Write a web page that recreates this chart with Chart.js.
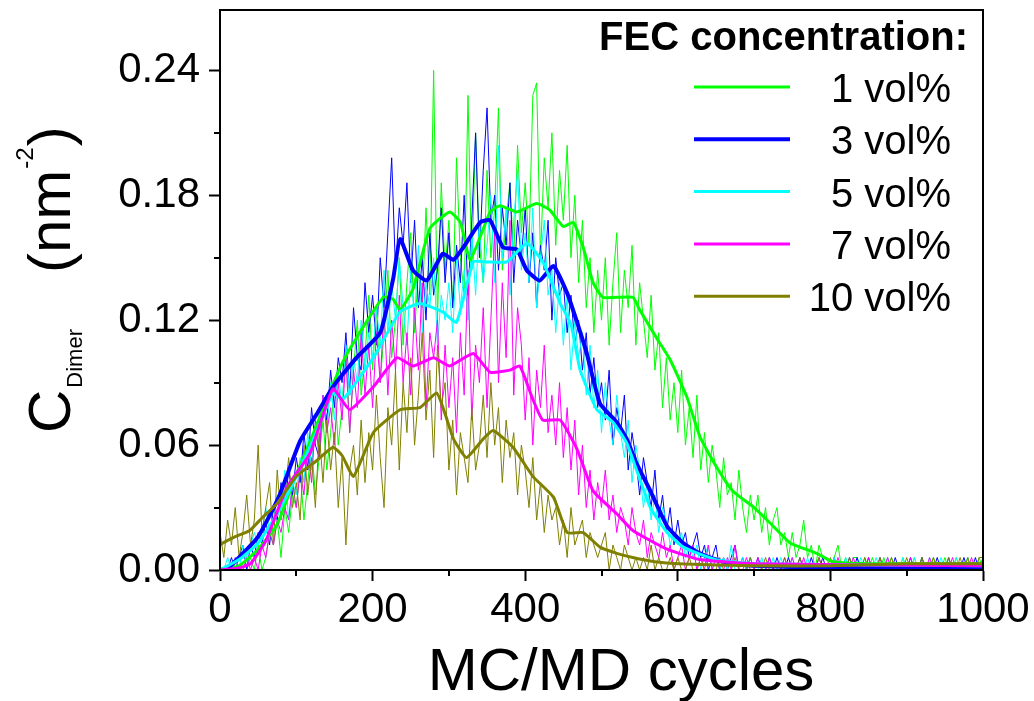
<!DOCTYPE html>
<html>
<head>
<meta charset="utf-8">
<script src="https://cdn.jsdelivr.net/npm/chart.js@4.4.1/dist/chart.umd.min.js"></script>
<style>
  body { margin: 0; background: #fff; }
  #wrap { width: 1034px; height: 701px; }
</style>
</head>
<body>
<div id="wrap"><canvas id="dimerChart" width="1034" height="701"></canvas></div>
<script>
// sampled every 5 MC/MD cycles
const cycles = Array.from({ length: 201 }, (_, i) => i * 5);

const labels = ['1 vol%', '3 vol%', '5 vol%', '7 vol%', '10 vol%'];
const colors = ['#00ff00', '#0000ff', '#00ffff', '#ff00ff', '#808000'];

// unlabelled minor ticks
const xMinorTicks = [100, 300, 500, 700, 900];
const yMinorTicks = [0.03, 0.09, 0.15, 0.21];

// raw C_Dimer values (nm^-2)
const raw1 = [
  0,0,0,0,0,0,0,0,0.006,0,
  0.012,0,0.006,0.018,0.012,0.024,0.006,0.030,0.018,0.036,
  0.030,0.048,0.024,0.042,0.060,0.036,0.054,0.072,0.048,0.066,
  0.090,0.060,0.078,0.108,0.066,0.096,0.120,0.084,0.102,0.132,
  0.096,0.126,0.090,0.114,0.144,0.102,0.120,0.150,0.108,0.138,
  0.162,0.114,0.144,0.126,0.174,0.132,0.240,0.120,0.186,0.144,
  0.168,0.126,0.198,0.150,0.132,0.228,0.144,0.210,0.156,0.138,
  0.192,0.150,0.174,0.222,0.144,0.168,0.186,0.150,0.204,0.162,
  0.186,0.156,0.228,0.234,0.150,0.198,0.174,0.210,0.156,0.192,
  0.168,0.204,0.150,0.180,0.138,0.168,0.126,0.150,0.114,0.144,
  0.120,0.150,0.108,0.138,0.162,0.114,0.144,0.126,0.156,0.108,
  0.138,0.120,0.102,0.132,0.096,0.114,0.078,0.102,0.072,0.090,
  0.066,0.096,0.060,0.078,0.054,0.084,0.048,0.066,0.042,0.060,
  0.048,0.030,0.054,0.036,0.042,0.024,0.048,0.030,0.018,0.036,
  0.024,0.036,0.018,0.030,0.012,0.024,0.030,0.012,0.018,0.006,
  0.018,0.006,0.012,0.024,0.006,0.012,0,0.012,0.006,0.006,
  0,0.006,0.012,0,0.006,0,0.006,0.006,0,0.006,
  0,0.006,0,0,0.006,0,0.006,0,0,0.006,
  0,0,0.006,0,0.006,0,0,0.006,0,0,
  0.006,0,0,0.006,0,0,0.006,0,0,0.006,0
];
const raw3 = [
  0,0,0,0.006,0,0.006,0.012,0,0.012,0.006,
  0.018,0.012,0.024,0.012,0.030,0.024,0.042,0.030,0.048,0.036,
  0.054,0.042,0.066,0.048,0.078,0.060,0.054,0.084,0.072,0.096,
  0.078,0.102,0.090,0.114,0.084,0.126,0.102,0.096,0.138,0.114,
  0.132,0.108,0.150,0.126,0.162,0.198,0.144,0.174,0.156,0.186,
  0.138,0.168,0.126,0.150,0.120,0.162,0.132,0.144,0.174,0.138,
  0.162,0.126,0.156,0.138,0.180,0.132,0.168,0.210,0.150,0.192,
  0.222,0.168,0.180,0.144,0.174,0.156,0.186,0.138,0.168,0.150,
  0.174,0.138,0.162,0.126,0.156,0.144,0.168,0.120,0.150,0.132,
  0.138,0.114,0.132,0.108,0.120,0.096,0.114,0.084,0.102,0.078,
  0.090,0.072,0.096,0.060,0.078,0.066,0.084,0.048,0.066,0.054,
  0.036,0.054,0.042,0.030,0.048,0.024,0.036,0.018,0.030,0.012,
  0.024,0.012,0.018,0.006,0.012,0.018,0.006,0.012,0,0.006,
  0.012,0,0.006,0,0.006,0.012,0,0.006,0,0.006,
  0,0.006,0,0,0.006,0,0.006,0,0,0.006,
  0,0,0.006,0,0,0.006,0,0,0.006,0,
  0,0.006,0,0,0,0.006,0,0.006,0,0,
  0.006,0,0,0.006,0,0,0,0.006,0,0,
  0,0.006,0,0,0.006,0,0,0,0.006,0,
  0,0.006,0,0,0,0.006,0,0,0.006,0,0.006
];
const raw5 = [
  0,0,0.006,0,0.006,0,0.012,0.006,0.012,0.018,
  0.012,0.018,0.030,0.018,0.024,0.036,0.030,0.048,0.024,0.042,
  0.036,0.054,0.042,0.066,0.048,0.072,0.060,0.084,0.066,0.090,
  0.072,0.096,0.078,0.108,0.084,0.102,0.090,0.120,0.096,0.114,
  0.102,0.126,0.108,0.144,0.114,0.138,0.120,0.150,0.126,0.108,
  0.144,0.120,0.156,0.114,0.138,0.126,0.150,0.108,0.132,0.120,
  0.138,0.114,0.150,0.126,0.144,0.120,0.162,0.132,0.168,0.138,
  0.156,0.180,0.138,0.204,0.150,0.174,0.132,0.168,0.192,0.144,
  0.162,0.138,0.174,0.126,0.150,0.168,0.132,0.144,0.114,0.138,
  0.108,0.132,0.096,0.120,0.102,0.114,0.084,0.108,0.078,0.096,
  0.066,0.090,0.072,0.060,0.084,0.066,0.054,0.072,0.042,0.060,
  0.048,0.030,0.042,0.024,0.036,0.018,0.030,0.024,0.012,0.018,
  0.012,0.018,0.006,0.012,0.006,0.012,0,0.006,0.012,0,
  0.006,0,0.006,0,0.012,0,0,0.006,0,0.006,
  0,0,0.006,0,0,0.006,0,0.006,0,0,
  0.006,0,0,0,0.006,0,0,0.006,0,0,
  0,0.006,0,0,0.006,0,0,0,0.006,0,
  0,0,0.006,0,0,0.006,0,0,0,0.006,
  0,0,0.006,0,0,0,0.006,0,0,0.006,
  0,0,0,0.006,0,0,0.006,0,0,0,0.006
];
const raw7 = [
  0,0,0,0,0.006,0,0,0.006,0,0.006,
  0,0.012,0.006,0.018,0.012,0.024,0.018,0.030,0.024,0.042,
  0.030,0.048,0.036,0.060,0.042,0.072,0.054,0.084,0.066,0.078,
  0.060,0.090,0.072,0.102,0.066,0.096,0.078,0.114,0.084,0.108,
  0.078,0.114,0.090,0.126,0.084,0.120,0.096,0.132,0.090,0.114,
  0.084,0.126,0.096,0.138,0.078,0.114,0.102,0.120,0.072,0.108,
  0.078,0.102,0.066,0.114,0.084,0.144,0.072,0.108,0.090,0.126,
  0.078,0.120,0.162,0.090,0.138,0.102,0.168,0.084,0.126,0.108,
  0.072,0.102,0.060,0.096,0.078,0.108,0.066,0.084,0.060,0.090,
  0.054,0.078,0.048,0.072,0.036,0.060,0.030,0.048,0.024,0.042,
  0.030,0.048,0.024,0.036,0.018,0.030,0.024,0.012,0.030,0.018,
  0.012,0.024,0.006,0.018,0.012,0.006,0.018,0.006,0.012,0,
  0.006,0.012,0,0.006,0.012,0,0.006,0,0.012,0,
  0.006,0,0,0.006,0,0.012,0,0,0.006,0,
  0,0.006,0,0,0.006,0,0,0,0.006,0,
  0.006,0,0,0.006,0,0,0,0.006,0,0,
  0,0,0.006,0,0,0,0.006,0,0,0,
  0.006,0,0,0,0,0.006,0,0,0,0,
  0,0.006,0,0,0,0,0.006,0,0,0,
  0,0,0.006,0,0,0,0,0.006,0,0,0
];
const raw10 = [
  0.018,0.006,0.024,0.012,0.030,0.006,0.018,0.036,0.012,0.024,
  0.060,0.018,0.030,0.042,0.012,0.048,0.024,0.036,0.054,0.030,
  0.042,0.024,0.060,0.036,0.054,0.030,0.066,0.042,0.072,0.048,
  0.066,0.030,0.054,0.012,0.048,0.060,0.036,0.072,0.042,0.066,
  0.048,0.084,0.054,0.030,0.078,0.060,0.096,0.048,0.090,0.066,
  0.102,0.060,0.084,0.114,0.072,0.096,0.054,0.108,0.078,0.090,
  0.048,0.072,0.036,0.066,0.054,0.042,0.078,0.048,0.060,0.084,
  0.054,0.090,0.060,0.078,0.042,0.072,0.054,0.066,0.036,0.060,
  0.048,0.030,0.054,0.024,0.042,0.018,0.036,0.024,0.030,0.012,
  0.024,0.006,0.030,0.012,0.018,0.024,0.006,0.018,0.012,0.006,
  0.012,0.018,0,0.012,0.006,0,0.012,0.006,0,0.006,
  0,0.006,0,0.012,0,0.006,0,0,0.006,0,
  0.006,0,0,0.006,0,0,0.006,0,0,0,
  0,0.006,0,0,0,0.006,0,0,0,0.006,
  0,0,0,0.006,0,0,0,0,0.006,0,
  0,0,0.006,0,0,0,0,0.006,0,0,
  0.006,0,0,0,0,0.006,0,0,0,0.006,
  0,0,0,0.006,0,0,0.006,0,0,0,
  0.006,0,0,0,0.006,0,0,0.006,0,0,
  0,0.006,0,0,0.006,0,0.006,0,0,0.006,0.006
];

// running averages
const avgCycles1 = [0,25,50,75,100,114,140,161,183,214,227,236,253,275,301,315,328,354,367,389,415,432,450,463,476,489,502,541,550,573,590,612,629,650,672,700,717,747,760,782,803,850,900,1000];
const avg1 = [0,0.002,0.010,0.022,0.046,0.058,0.082,0.100,0.114,0.131,0.130,0.125,0.135,0.164,0.172,0.167,0.149,0.172,0.175,0.172,0.176,0.173,0.165,0.167,0.155,0.138,0.131,0.131,0.125,0.111,0.101,0.083,0.064,0.050,0.038,0.030,0.024,0.013,0.011,0.008,0.004,0.003,0.003,0.003];

const avgCycles3 = [0,10,25,50,77,105,127,148,179,210,227,236,253,271,292,306,319,341,354,371,389,402,419,437,455,468,480,498,520,533,545,564,586,607,629,650,672,700,800,1000];
const avg3 = [0,0.001,0.006,0.016,0.035,0.062,0.075,0.088,0.102,0.114,0.140,0.159,0.144,0.139,0.152,0.149,0.155,0.167,0.168,0.155,0.154,0.144,0.139,0.146,0.133,0.119,0.105,0.080,0.071,0.063,0.052,0.038,0.021,0.013,0.008,0.005,0.003,0.002,0.001,0.001];

const avgCycles5 = [0,25,50,75,100,125,148,161,201,236,262,292,310,332,350,376,402,423,446,460,472,494,515,533,545,564,586,607,650,700,1000];
const avg5 = [0,0.005,0.013,0.027,0.045,0.065,0.085,0.082,0.102,0.124,0.128,0.124,0.119,0.148,0.148,0.148,0.157,0.148,0.128,0.118,0.096,0.077,0.071,0.061,0.049,0.030,0.018,0.011,0.005,0.003,0.002];

const avgCycles7 = [0,25,40,60,88,118,148,170,201,232,253,280,301,332,354,380,393,410,423,446,468,489,520,541,586,629,700,1000];
const avg7 = [0,0.001,0.003,0.014,0.040,0.056,0.087,0.077,0.088,0.102,0.098,0.102,0.098,0.104,0.095,0.096,0.098,0.082,0.072,0.072,0.058,0.038,0.027,0.019,0.010,0.005,0.003,0.002];

const avgCycles10 = [0,4,20,39,55,75,100,125,148,160,175,201,236,262,284,295,306,323,345,358,384,410,437,455,476,498,520,541,570,600,700,800,900,1000];
const avg10 = [0.012,0.013,0.016,0.019,0.025,0.032,0.045,0.052,0.059,0.055,0.045,0.066,0.077,0.078,0.085,0.075,0.063,0.054,0.063,0.067,0.059,0.045,0.035,0.018,0.018,0.011,0.008,0.006,0.004,0.003,0.002,0.002,0.003,0.003];

const rawSeries = [raw1, raw3, raw5, raw7, raw10];
const avgSeries = [[avgCycles1, avg1], [avgCycles3, avg3], [avgCycles5, avg5], [avgCycles7, avg7], [avgCycles10, avg10]];
const avgWidths = [3, 4, 3, 3, 3];

const FONT = '"Liberation Sans", Arial, sans-serif';

const datasets = [];
rawSeries.forEach((vals, k) => {
  datasets.push({
    label: labels[k] + ' raw',
    data: cycles.map((c, i) => ({ x: c, y: vals[i] })),
    borderColor: colors[k],
    borderWidth: 1,
    pointRadius: 0,
    order: 14 - k
  });
});
avgSeries.forEach(([xs, ys], k) => {
  datasets.push({
    label: labels[k],
    data: xs.map((c, i) => ({ x: c, y: ys[i] })),
    borderColor: colors[k],
    borderWidth: avgWidths[k],
    pointRadius: 0,
    tension: 0.15,
    order: 4 - k
  });
});

const decor = {
  id: 'decor',
  afterDraw(chart) {
    const ctx = chart.ctx;
    const a = chart.chartArea;
    const sx = chart.scales.x;
    const sy = chart.scales.y;
    ctx.save();
    // frame
    ctx.strokeStyle = '#000';
    ctx.lineWidth = 2;
    ctx.strokeRect(a.left, a.top, a.right - a.left, a.bottom - a.top);

    // short minor ticks
    ctx.beginPath();
    xMinorTicks.forEach(v => {
      const px = Math.round(sx.getPixelForValue(v));
      ctx.moveTo(px, a.bottom);
      ctx.lineTo(px, a.bottom + 6);
    });
    yMinorTicks.forEach(v => {
      const py = Math.round(sy.getPixelForValue(v));
      ctx.moveTo(a.left, py);
      ctx.lineTo(a.left - 6, py);
    });
    ctx.stroke();

    ctx.fillStyle = '#000';
    // x title
    ctx.font = '60px ' + FONT;
    ctx.textAlign = 'center';
    ctx.textBaseline = 'alphabetic';
    ctx.fillText('MC/MD cycles', 621, 690);

    // y title, rotated
    ctx.save();
    ctx.translate(70, 433);
    ctx.rotate(-Math.PI / 2);
    ctx.textAlign = 'left';
    ctx.font = '60px ' + FONT;
    ctx.fillText('C', 0, 0);
    let x = ctx.measureText('C').width + 2;
    ctx.font = '22px ' + FONT;
    ctx.fillText('Dimer', x, 12);
    ctx.font = '60px ' + FONT;
    ctx.fillText('(nm', 160, 0);
    x = 160 + ctx.measureText('(nm').width + 1;
    ctx.font = '24px ' + FONT;
    ctx.fillText('-2', x, -37);
    x += ctx.measureText('-2').width + 1;
    ctx.font = '60px ' + FONT;
    ctx.fillText(')', x, 0);
    ctx.restore();

    // legend
    ctx.textAlign = 'right';
    ctx.font = 'bold 40px ' + FONT;
    ctx.fillText('FEC concentration:', 968, 50);
    ctx.font = '40px ' + FONT;
    labels.forEach((lab, k) => {
      const ly = 87 + k * 52.3;
      ctx.strokeStyle = colors[k];
      ctx.lineWidth = avgWidths[k];
      ctx.beginPath();
      ctx.moveTo(694, ly);
      ctx.lineTo(790, ly);
      ctx.stroke();
      ctx.fillText(lab, 951, ly + 15);
    });
    ctx.restore();
  }
};

new Chart(document.getElementById('dimerChart'), {
  type: 'line',
  data: { datasets: datasets },
  options: {
    responsive: false,
    animation: false,
    devicePixelRatio: 1,
    layout: { padding: { left: 0, top: 10, right: 51, bottom: 0 } },
    plugins: { legend: { display: false }, tooltip: { enabled: false } },
    scales: {
      x: {
        type: 'linear',
        min: 0,
        max: 1000,
        afterFit: (s) => { s.height = 131; s.paddingLeft = 0; s.paddingRight = 0; },
        grid: { drawOnChartArea: false, tickLength: 11, tickWidth: 2, tickColor: '#000' },
        border: { color: '#000', width: 2 },
        ticks: {
          stepSize: 200,
          autoSkip: false,
          maxRotation: 0,
          padding: 4,
          color: '#000',
          font: { family: FONT, size: 42 },
          callback: (v) => String(v)
        }
      },
      y: {
        min: 0,
        max: 0.269,
        afterFit: (s) => { s.width = 220; s.paddingTop = 0; s.paddingBottom = 0; },
        grid: { drawOnChartArea: false, tickLength: 11, tickWidth: 2, tickColor: '#000' },
        border: { color: '#000', width: 2 },
        ticks: {
          stepSize: 0.06,
          includeBounds: false,
          autoSkip: false,
          padding: 9,
          color: '#000',
          font: { family: FONT, size: 42 },
          callback: (v) => v.toFixed(2)
        }
      }
    }
  },
  plugins: [decor]
});
</script>
</body>
</html>
